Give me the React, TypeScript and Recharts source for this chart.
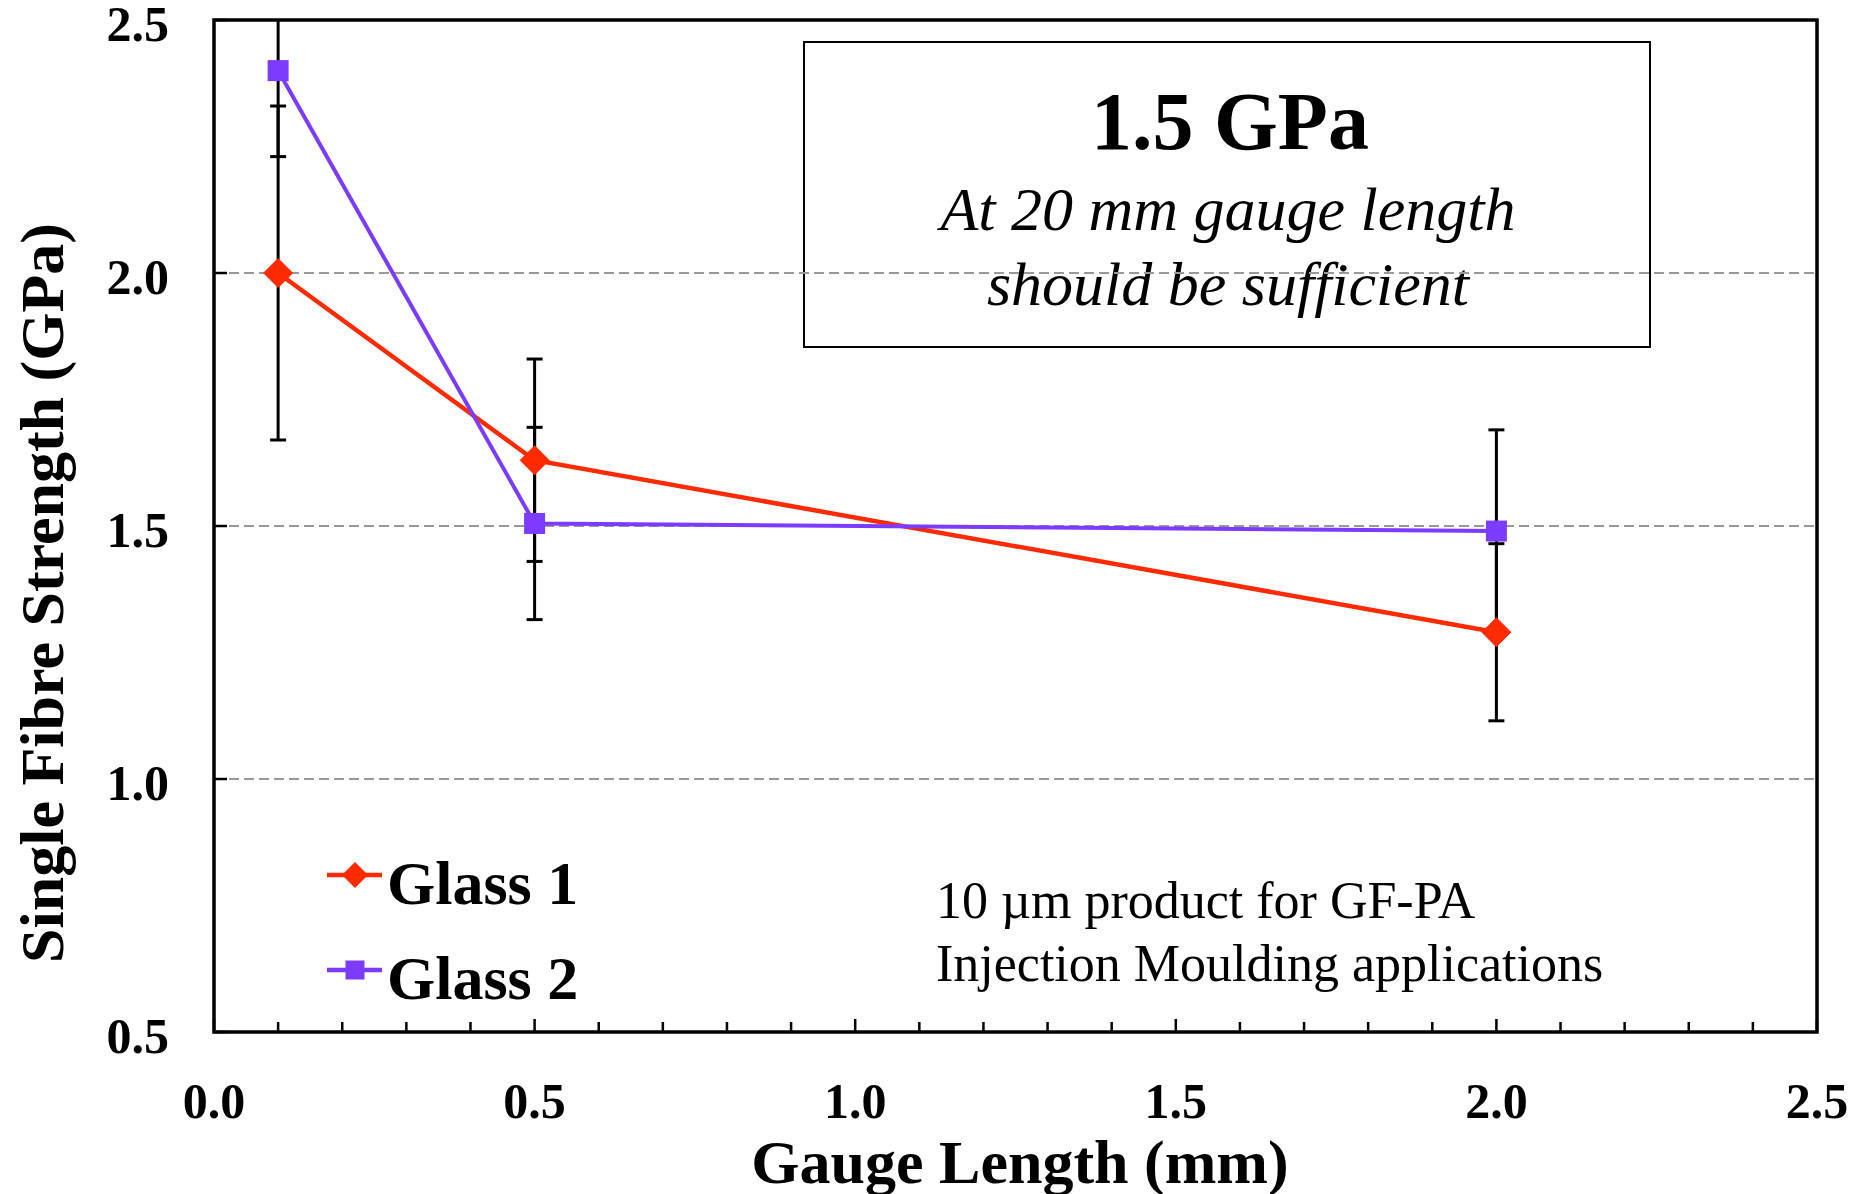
import {
  LineChart,
  Line,
  XAxis,
  YAxis,
  ErrorBar,
  ReferenceLine,
  ReferenceArea,
  Customized,
} from 'recharts'

// gauge length (mm) and single fibre strength (GPa) with ± spread
const gaugeLengths = [0.1, 0.5, 2.0]
const glass1Strength = [2.0, 1.63, 1.29]
const glass1Spread = [0.33, 0.2, 0.175]
const glass2Strength = [2.4, 1.505, 1.49]
const glass2Spread = [0.17, 0.19, 0.2]

const xTicks = [
  0, 0.1, 0.2, 0.3, 0.4, 0.5, 0.6, 0.7, 0.8, 0.9, 1.0, 1.1, 1.2, 1.3, 1.4, 1.5,
  1.6, 1.7, 1.8, 1.9, 2.0, 2.1, 2.2, 2.3, 2.4, 2.5,
]
const yTicks = [0.5, 1.0, 1.5, 2.0, 2.5]
const gridLevels = [1.0, 1.5, 2.0]

const data = gaugeLengths.map((x, i) => ({
  x,
  g1: glass1Strength[i],
  g1Err: glass1Spread[i],
  g2: glass2Strength[i],
  g2Err: glass2Spread[i],
}))

const RED = '#ff2a00'
const PURPLE = '#7b3cff'
const FONT = '"Liberation Serif", "Times New Roman", serif'

const WIDTH = 1856
const HEIGHT = 1194
const MARGIN = { top: 20, right: 39, bottom: 0, left: 0 }
const X_AXIS_HEIGHT = 162
const Y_AXIS_WIDTH = 214

const isMajor = (v: number) => Math.abs(v * 2 - Math.round(v * 2)) < 1e-6

function XTick({ x, y, payload }: any) {
  const v = payload.value as number
  const major = isMajor(v)
  return (
    <g>
      <line x1={x} x2={x} y1={y} y2={y - (major ? 13 : 10)} stroke="#000" strokeWidth={2.5} />
      {major && (
        <text x={x} y={y + 86} textAnchor="middle" fontFamily={FONT} fontWeight="bold" fontSize={50} fill="#000">
          {v.toFixed(1)}
        </text>
      )}
    </g>
  )
}

function YTick({ x, y, payload }: any) {
  const v = payload.value as number
  return (
    <g>
      <line x1={x} x2={x + 13} y1={y} y2={y} stroke="#000" strokeWidth={2.5} />
      <text x={x - 45} y={y + 21} textAnchor="end" fontFamily={FONT} fontWeight="bold" fontSize={50} fill="#000">
        {v.toFixed(1)}
      </text>
    </g>
  )
}

function Diamond({ cx, cy, r = 15 }: any) {
  return <path d={`M${cx},${cy - r}L${cx + r},${cy}L${cx},${cy + r}L${cx - r},${cy}Z`} fill={RED} />
}

function Square({ cx, cy, s = 21 }: any) {
  return <rect x={cx - s / 2} y={cy - s / 2} width={s} height={s} fill={PURPLE} />
}

function Annotations() {
  return (
    <g fontFamily={FONT} fill="#000">
      <rect x={804} y={42} width={846} height={305} fill="#fff" fillOpacity={0.6} stroke="#000" strokeWidth={2} />
      <text x={1230} y={149} textAnchor="middle" fontWeight="bold" fontSize={82}>
        1.5 GPa
      </text>
      <text x={1228} y={230} textAnchor="middle" fontStyle="italic" fontSize={62}>
        At 20 mm gauge length
      </text>
      <text x={1228} y={305} textAnchor="middle" fontStyle="italic" fontSize={62}>
        should be sufficient
      </text>
      <text x={936} y={918} fontSize={52}>
        10 µm product for GF-PA
      </text>
      <text x={936} y={981} fontSize={52}>
        Injection Moulding applications
      </text>
      <text x={1020} y={1183} textAnchor="middle" fontWeight="bold" fontSize={62}>
        Gauge Length (mm)
      </text>
      <text transform="translate(63,593) rotate(-90)" textAnchor="middle" fontWeight="bold" fontSize={62}>
        Single Fibre Strength (GPa)
      </text>

      {/* legend */}
      <line x1={327} x2={382} y1={875} y2={875} stroke={RED} strokeWidth={4.5} />
      <Diamond cx={355} cy={875} r={13} />
      <text x={387} y={904} fontWeight="bold" fontSize={62}>
        Glass 1
      </text>
      <line x1={327} x2={382} y1={970} y2={970} stroke={PURPLE} strokeWidth={4.5} />
      <Square cx={355} cy={970} s={19} />
      <text x={387} y={999} fontWeight="bold" fontSize={62}>
        Glass 2
      </text>
    </g>
  )
}

export default function App() {
  const plotLeft = MARGIN.left + Y_AXIS_WIDTH
  const plotTop = MARGIN.top
  const plotW = WIDTH - plotLeft - MARGIN.right
  const plotH = HEIGHT - plotTop - MARGIN.bottom - X_AXIS_HEIGHT

  return (
    <div style={{ position: 'absolute', left: 0, top: 0, background: '#fff' }}>
      {/* error bars that run past 2.5 GPa stop at the plot frame */}
      <svg width={0} height={0} style={{ position: 'absolute' }}>
        <defs>
          <clipPath id="plot-frame" clipPathUnits="userSpaceOnUse">
            <rect x={plotLeft} y={plotTop} width={plotW} height={plotH} />
          </clipPath>
        </defs>
      </svg>
      <style>{'[class*="errorBar"] line, [class*="ErrorBar"] line { clip-path: url(#plot-frame); }'}</style>
      <LineChart width={WIDTH} height={HEIGHT} data={data} margin={MARGIN}>
        <XAxis
          type="number"
          dataKey="x"
          domain={[0, 2.5]}
          ticks={xTicks}
          interval={0}
          allowDataOverflow
          height={X_AXIS_HEIGHT}
          axisLine={false}
          tickLine={false}
          tickSize={0}
          tickMargin={0}
          tick={<XTick />}
        />
        <YAxis
          type="number"
          domain={[0.5, 2.5]}
          ticks={yTicks}
          interval={0}
          allowDataOverflow
          width={Y_AXIS_WIDTH}
          axisLine={false}
          tickLine={false}
          tickSize={0}
          tickMargin={0}
          tick={<YTick />}
        />
        {gridLevels.map((v) => (
          <ReferenceLine key={v} y={v} stroke="#999" strokeWidth={2} strokeDasharray="10 5" />
        ))}
        <Customized component={<Annotations />} />
        <ReferenceArea x1={0} x2={2.5} y1={0.5} y2={2.5} fill="none" stroke="#000" strokeWidth={3.5} />

        {/* error bars first so the markers sit on top of them */}
        <Line dataKey="g1" stroke="none" dot={false} activeDot={false} legendType="none" isAnimationActive={false}>
          <ErrorBar dataKey="g1Err" direction="y" width={8} stroke="#000" strokeWidth={3} isAnimationActive={false} />
        </Line>
        <Line dataKey="g2" stroke="none" dot={false} activeDot={false} legendType="none" isAnimationActive={false}>
          <ErrorBar dataKey="g2Err" direction="y" width={8} stroke="#000" strokeWidth={3} isAnimationActive={false} />
        </Line>

        <Line
          name="Glass 1"
          dataKey="g1"
          stroke={RED}
          strokeWidth={4.5}
          dot={(p: any) => <Diamond key={`d-${p.index}`} cx={p.cx} cy={p.cy} />}
          activeDot={false}
          isAnimationActive={false}
        />
        <Line
          name="Glass 2"
          dataKey="g2"
          stroke={PURPLE}
          strokeWidth={4}
          dot={(p: any) => <Square key={`s-${p.index}`} cx={p.cx} cy={p.cy} />}
          activeDot={false}
          isAnimationActive={false}
        />
      </LineChart>
    </div>
  )
}
